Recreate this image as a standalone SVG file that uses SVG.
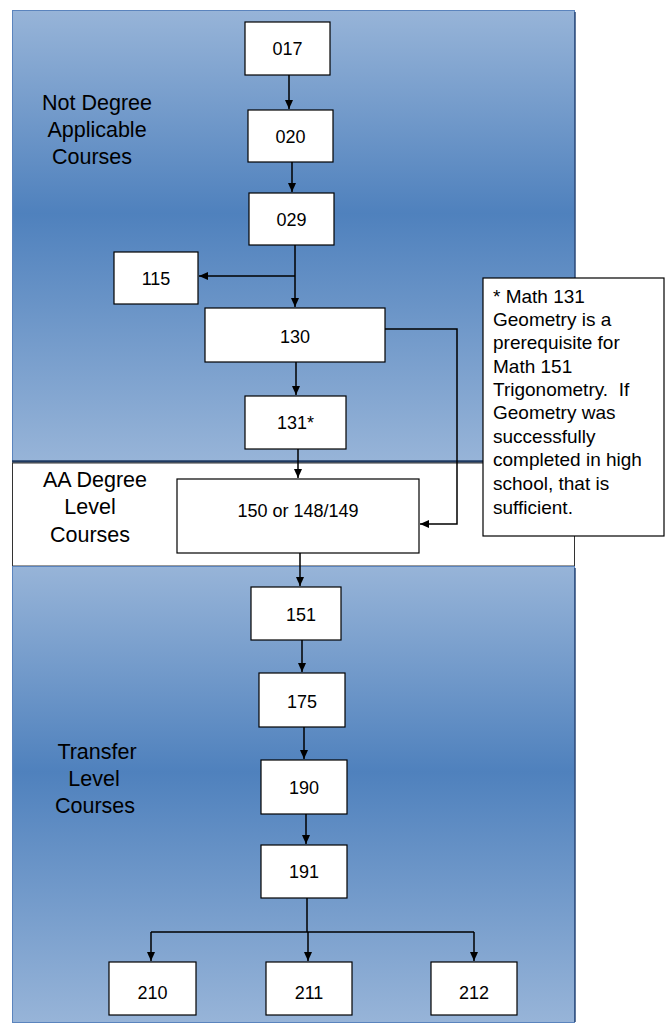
<svg xmlns="http://www.w3.org/2000/svg" width="665" height="1025" viewBox="0 0 665 1025">
<style>
.node{fill:#fff;stroke:#000;stroke-width:1.2}
.nt{font-family:"Liberation Sans",Arial,sans-serif;font-size:18px;fill:#000;text-anchor:middle}
.lbl{font-family:"Liberation Sans",Arial,sans-serif;font-size:21.5px;fill:#000;text-anchor:middle}
.note{font-family:"Liberation Sans",Arial,sans-serif;font-size:19px;fill:#000}
.conn{fill:none;stroke:#000;stroke-width:1.5}
</style>
<defs>
<linearGradient id="g" x1="0" y1="0" x2="0" y2="1">
<stop offset="0" stop-color="#97b4d8"/>
<stop offset="0.45" stop-color="#4f81bd"/>
<stop offset="1" stop-color="#97b4d8"/>
</linearGradient>
<marker id="ah" markerWidth="10" markerHeight="10" refX="9" refY="5" orient="auto" markerUnits="userSpaceOnUse">
<path d="M0,1 L9,5 L0,9 Z" fill="#000"/>
</marker>
</defs>
<rect width="665" height="1025" fill="#fff"/>
<g id="panels">
<rect x="12.5" y="10.5" width="562" height="451" fill="url(#g)" stroke="#5b84bd" stroke-width="1"/>
<line x1="12" y1="461.5" x2="575" y2="461.5" stroke="#1f3a60" stroke-width="2.5"/>
<rect x="12.5" y="463" width="562" height="103" fill="#fff" stroke="#333" stroke-width="1"/>
<rect x="12.5" y="566.5" width="562" height="456" fill="url(#g)" stroke="#5b84bd" stroke-width="1"/>
<line x1="575" y1="12" x2="575" y2="461" stroke="#2b4a78" stroke-width="1.5"/>
<line x1="575" y1="568" x2="575" y2="1022" stroke="#2b4a78" stroke-width="1.5"/>
</g>
<g id="labels">
<text class="lbl" x="97" y="110">Not Degree</text>
<text class="lbl" x="97" y="137">Applicable</text>
<text class="lbl" x="92" y="164">Courses</text>
<text class="lbl" x="95" y="487">AA Degree</text>
<text class="lbl" x="90" y="514">Level</text>
<text class="lbl" x="90" y="542">Courses</text>
<text class="lbl" x="97" y="759">Transfer</text>
<text class="lbl" x="94" y="786">Level</text>
<text class="lbl" x="95" y="813">Courses</text>
</g>
<g id="connectors">
<line class="conn" x1="289" y1="75" x2="289" y2="109" marker-end="url(#ah)"/>
<line class="conn" x1="292" y1="162" x2="292" y2="192" marker-end="url(#ah)"/>
<line class="conn" x1="295" y1="245" x2="295" y2="307" marker-end="url(#ah)"/>
<line class="conn" x1="295" y1="276" x2="199" y2="276" marker-end="url(#ah)"/>
<line class="conn" x1="296" y1="362" x2="296" y2="395" marker-end="url(#ah)"/>
<polyline class="conn" points="385,329 457,329 457,524 420,524" marker-end="url(#ah)"/>
<line class="conn" x1="298" y1="449" x2="298" y2="478" marker-end="url(#ah)"/>
<line class="conn" x1="300" y1="553" x2="300" y2="586" marker-end="url(#ah)"/>
<line class="conn" x1="302" y1="640" x2="302" y2="672" marker-end="url(#ah)"/>
<line class="conn" x1="304" y1="727" x2="304" y2="759" marker-end="url(#ah)"/>
<line class="conn" x1="306" y1="814" x2="306" y2="844" marker-end="url(#ah)"/>
<line class="conn" x1="307" y1="898" x2="307" y2="932"/>
<line class="conn" x1="151" y1="932" x2="474" y2="932"/>
<line class="conn" x1="151" y1="932" x2="151" y2="961" marker-end="url(#ah)"/>
<line class="conn" x1="308" y1="932" x2="308" y2="961" marker-end="url(#ah)"/>
<line class="conn" x1="474" y1="932" x2="474" y2="961" marker-end="url(#ah)"/>
</g>
<g id="n017"><rect class="node" x="245" y="22" width="85" height="53"/><text class="nt" x="287.5" y="55">017</text></g>
<g id="n020"><rect class="node" x="248" y="110" width="85" height="52"/><text class="nt" x="290.5" y="143">020</text></g>
<g id="n029"><rect class="node" x="249" y="193" width="85" height="52"/><text class="nt" x="291.5" y="226">029</text></g>
<g id="n115"><rect class="node" x="114" y="252" width="84" height="52"/><text class="nt" x="156" y="285">115</text></g>
<g id="n130"><rect class="node" x="205" y="308" width="180" height="54"/><text class="nt" x="295" y="343">130</text></g>
<g id="n131"><rect class="node" x="245" y="396" width="101" height="53"/><text class="nt" x="295.5" y="429">131*</text></g>
<g id="n150"><rect class="node" x="177" y="479" width="242" height="74"/><text class="nt" x="298" y="517">150 or 148/149</text></g>
<g id="n151"><rect class="node" x="251" y="587" width="90" height="53"/><text class="nt" x="301" y="621">151</text></g>
<g id="n175"><rect class="node" x="259" y="673" width="86" height="54"/><text class="nt" x="302" y="708">175</text></g>
<g id="n190"><rect class="node" x="261" y="760" width="86" height="54"/><text class="nt" x="304" y="794">190</text></g>
<g id="n191"><rect class="node" x="261" y="845" width="86" height="53"/><text class="nt" x="304" y="878">191</text></g>
<g id="n210"><rect class="node" x="109" y="962" width="87" height="53"/><text class="nt" x="152.5" y="999">210</text></g>
<g id="n211"><rect class="node" x="266" y="962" width="86" height="53"/><text class="nt" x="309" y="999">211</text></g>
<g id="n212"><rect class="node" x="431" y="962" width="86" height="53"/><text class="nt" x="474" y="999">212</text></g>
<g id="note">
<rect class="node" x="483" y="278" width="181" height="258"/>
<text class="note" x="493" y="303">* Math 131</text>
<text class="note" x="493" y="326">Geometry is a</text>
<text class="note" x="493" y="349">prerequisite for</text>
<text class="note" x="493" y="373">Math 151</text>
<text class="note" x="493" y="396" xml:space="preserve">Trigonometry.  If</text>
<text class="note" x="493" y="419">Geometry was</text>
<text class="note" x="493" y="443">successfully</text>
<text class="note" x="493" y="466">completed in high</text>
<text class="note" x="493" y="490">school, that is</text>
<text class="note" x="493" y="514">sufficient.</text>
</g>
</svg>
